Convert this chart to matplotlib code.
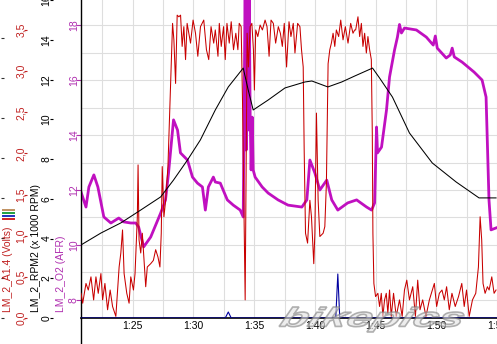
import matplotlib
matplotlib.use('Agg')
import matplotlib.pyplot as plt
from matplotlib.lines import Line2D
from matplotlib.textpath import TextPath
from matplotlib.patches import PathPatch
from matplotlib.font_manager import FontProperties
from matplotlib.transforms import Affine2D
import numpy as np

plt.rcParams['font.family'] = 'Liberation Sans'
plt.rcParams['font.size'] = 7.5

# time in seconds (1:25 = 85 s)
afr_t = [80.74, 81.15, 81.39, 81.80, 82.13, 82.62, 83.20, 83.85, 84.26, 84.84, 85.25, 85.49,
         85.90, 86.48, 87.30, 87.70, 87.95, 88.36, 88.69, 88.93, 89.51, 89.92, 90.33, 90.74,
         90.98, 91.23, 91.64, 91.80, 92.21, 92.79, 93.28, 93.85, 94.10, 94.26, 94.34, 94.43,
         94.51, 94.59, 94.67, 94.75, 94.84, 94.92, 95.08, 95.66, 96.15, 96.97, 97.79, 98.93,
         99.34, 99.59, 100.00, 100.41, 100.98, 101.39, 101.89, 102.70, 103.44, 104.26, 104.67,
         104.92, 105.08, 105.16, 105.49, 105.90, 106.15, 106.56, 106.80, 106.97, 107.13, 107.38,
         108.36, 109.18, 109.75, 109.92, 110.08, 110.82, 111.15, 111.31, 111.48, 112.13, 113.11,
         113.77, 114.10, 114.34, 114.51, 114.92]
afr_v = [11.93, 11.38, 12.11, 12.55, 12.11, 11.02, 10.80, 10.98, 10.84, 10.80, 10.80, 10.65,
         9.93, 10.29, 11.16, 11.64, 12.62, 14.55, 14.18, 13.35, 13.09, 12.47, 12.25, 12.11,
         11.27, 12.11, 12.47, 12.29, 12.25, 11.64, 11.45, 11.27, 11.02, 19.5, 13.45, 19.5,
         14.18, 19.5, 14.80, 12.73, 14.65, 12.73, 12.47, 12.11, 11.89, 11.64, 11.45, 11.38,
         11.64, 13.09, 12.62, 12.00, 12.36, 11.64, 11.27, 11.53, 11.64, 11.38, 11.27,
         11.53, 14.29, 13.35, 13.56, 14.91, 16.11, 17.09, 17.56, 18.02, 17.71, 17.89,
         17.82, 17.56, 17.27, 17.60, 17.16, 16.80, 16.91, 17.16, 16.84, 16.65, 16.29,
         16.00, 15.38, 11.64, 10.55, 10.62]

rpm_t = [80.74, 82.38, 84.02, 85.66, 87.30, 88.36, 89.51, 90.57, 91.80, 92.87, 94.10, 94.51,
         94.92, 96.15, 97.54, 99.18, 99.75, 101.07, 102.21, 103.28, 104.75, 105.33, 106.39,
         107.79, 109.67, 111.64, 113.52, 114.92]
rpm_k = [3.68, 4.28, 4.79, 5.44, 6.10, 6.95, 7.96, 8.97, 10.48, 11.64, 12.59, 11.49,
         10.48, 10.98, 11.59, 11.89, 11.94, 11.64, 11.89, 12.19, 12.59, 12.09, 11.13,
         9.32, 7.81, 6.85, 6.05, 6.05]

volt_t = [80.74, 80.88, 81.15, 81.34, 81.56, 81.78, 81.97, 82.16, 82.38, 82.52, 82.71, 82.93,
          83.14, 83.34, 83.61, 83.88, 84.02, 84.16, 84.29, 84.51, 84.70, 84.84, 85.06, 85.19,
          85.38, 85.44, 85.52, 85.66, 85.79, 85.93, 86.07, 86.20, 86.48, 86.70, 86.89, 87.08,
          87.24, 87.35, 87.43, 87.57, 87.71, 87.90, 88.06, 88.17, 88.28, 88.39, 88.53, 88.66,
          88.80, 88.94, 89.07, 89.21, 89.35, 89.48, 89.76, 89.97, 90.17, 90.36, 90.58, 90.85,
          91.07, 91.26, 91.45, 91.67,
          91.80, 92.02, 92.13, 92.29, 92.48, 92.62, 92.76, 92.95, 93.11, 93.30, 93.49, 93.66,
          93.77, 93.93, 94.04, 94.15, 94.26, 94.34, 94.42, 94.53, 94.67, 94.81, 94.94, 95.02,
          95.13, 95.30, 95.49, 95.68, 95.90, 96.06, 96.23, 96.39, 96.58, 96.77, 96.99, 97.16,
          97.32, 97.48, 97.67, 97.87, 98.03, 98.22, 98.36, 98.58, 98.77, 98.90, 99.04, 99.12,
          99.23, 99.40, 99.59, 99.72, 99.91, 100.00, 100.13, 100.27, 100.41, 100.68, 100.82,
          100.95, 101.09, 101.23, 101.36, 101.50, 101.64, 101.77, 101.96, 102.13, 102.32,
          102.51, 102.73, 102.95, 103.14, 103.28,
          103.36, 103.55, 103.69, 103.83, 103.96, 104.10, 104.24, 104.37, 104.51, 104.65,
          104.73, 104.78, 104.86, 105.00, 105.19, 105.33, 105.47, 105.60, 105.74, 105.88,
          106.01, 106.15, 106.29, 106.48, 106.70, 106.97, 107.19, 107.38, 107.57, 107.79,
          108.06, 108.28, 108.47, 108.66, 108.88, 109.15, 109.43, 109.84, 110.03, 110.25,
          110.47, 110.66, 110.85, 111.07, 111.29, 111.56, 111.83, 112.10, 112.30, 112.49,
          112.71, 112.98, 113.25, 113.47, 113.61, 113.74, 113.85, 114.02, 114.21, 114.35,
          114.57, 114.76, 114.92]
volt_v = [0.30, 0.18, 0.42, 0.34, 0.50, 0.22, 0.50, 0.30, 0.54, 0.22, 0.42, 0.10,
          0.34, 0.14, 0.02, 0.62, 0.79, 1.07, 0.54, 0.30, 0.18, 0.50, 0.34, 0.54,
          1.23, 1.86, 0.95, 0.79, 1.03, 0.70, 0.38, 0.62, 0.66, 0.70, 0.83, 0.74,
          0.62, 1.03, 1.84, 1.23, 1.43, 1.84, 2.57, 3.05, 3.58, 3.38, 2.85, 3.68,
          3.66, 3.68, 3.30, 3.54, 3.14, 3.58, 3.34, 3.62, 3.46, 3.18, 3.54, 3.62,
          3.26, 3.14, 3.54, 3.34,
          3.50, 3.18, 3.58, 3.30, 3.54, 3.14, 3.58, 3.34, 3.60, 3.26, 3.46, 3.26,
          3.58, 3.54, 2.65, 1.43, 0.22, 1.84, 3.46, 3.05, 3.54, 3.58, 3.26, 2.77,
          3.50, 3.42, 3.56, 3.50, 3.62, 3.54, 3.18, 3.62, 3.58, 3.34, 3.54, 3.46,
          3.30, 3.58, 3.05, 3.60, 3.42, 3.58, 3.22, 3.58, 3.54, 3.26, 3.05, 2.04,
          1.03, 0.91, 1.43, 1.23, 0.66, 1.03, 2.49, 1.43, 0.99, 1.03, 1.11,
          1.64, 3.09, 3.26, 3.34, 3.46, 3.30, 3.50, 3.42, 3.62, 3.38,
          3.54, 3.34, 3.58, 3.46, 3.50,
          3.50, 3.66, 3.42, 3.58, 3.30, 3.46, 3.22, 3.42, 3.26, 3.14,
          2.24, 1.03, 0.42, 0.26, 0.30, 0.14, 0.30, 0.02, 0.22, 0.30,
          0.06, 0.34, 0.02, 0.30, 0.02, 0.22, 0.02, 0.34, 0.46, 0.22,
          0.38, 0.02, 0.46, 0.10, 0.22, 0.02, 0.22, 0.42, 0.14, 0.30,
          0.34, 0.22, 0.38, 0.10, 0.30, 0.14, 0.26, 0.42, 0.14, 0.34,
          0.02, 0.22, 0.30, 0.62, 1.23, 0.95, 0.42, 0.30, 0.38, 0.34,
          0.50, 0.30, 0.34]

blue_t = [80.74, 92.62, 92.87, 93.11, 101.72, 101.89, 102.05, 115.0]
blue_v = [0, 0, 0.15, 0, 0, 1.1, 0, 0]

xtick_pos = [80.74, 85, 90, 95, 100, 105, 110, 115]
xtick_labels = ["I", "1:25", "1:30", "1:35", "1:40", "1:45", "1:50", "1:55"]
afr_ticks = [8, 10, 12, 14, 16, 18]
rpm_ticks = [0, 2, 4, 6, 8, 10, 12, 14, 16]
volt_ticks = [0.0, 0.5, 1.0, 1.5, 2.0, 2.5, 3.0, 3.5]
volt_labels = ["0,0", "0,5", "1,0", "1,5", "2,0", "2,5", "3,0", "3,5"]

AFR_COL = '#c010c0'
AFR_TXT = '#b030b0'
VOLT_COL = '#c80000'
VOLT_TXT = '#c02020'
BLUE_COL = '#0000a0'

W, H = 497, 344
fig = plt.figure(figsize=(W / 100, H / 100), dpi=100)
host = fig.add_axes([81 / W, 26 / H, 416 / W, 318 / H])

host.plot(afr_t, afr_v, color=AFR_COL, lw=2.0, solid_joinstyle='round')
host.set_xlim(80.74, 115.0)
host.set_ylim(7.345, 18.91)
host.set_xticks(xtick_pos)
host.set_xticklabels(xtick_labels)
host.set_xticks(np.arange(82.5, 115, 2.5), minor=True)
host.set_yticks(afr_ticks)
host.set_yticklabels([str(v) for v in afr_ticks])
host.set_yticks(np.arange(9, 19, 2), minor=True)
host.grid(which='both', color='#dedede', lw=0.8)
host.set_axisbelow(True)
host.tick_params(axis='x', which='major', length=0, pad=2.5, labelsize=7.5)
host.tick_params(which='minor', length=0)
host.tick_params(axis='y', which='major', length=3.6, width=0.8, pad=-2,
                 colors=AFR_TXT, labelrotation=90)
for lbl in host.get_yticklabels():
    lbl.set_va('center')
host.spines['top'].set_visible(False)
host.spines['right'].set_visible(False)
host.spines['left'].set_linewidth(1.0)
host.spines['bottom'].set_linewidth(1.2)
host.axvline(80.74, ymin=-26 / 318, ymax=0, color='black', lw=1.0, clip_on=False)


def side_axis(offset_px):
    a = host.twinx()
    a.yaxis.set_ticks_position('left')
    a.yaxis.set_label_position('left')
    for s in a.spines.values():
        s.set_visible(False)
    a.spines['left'].set_position(('axes', -offset_px / 416))
    return a


ax_v = side_axis(54)
ax_v.plot(volt_t, volt_v, color=VOLT_COL, lw=0.75)
ax_v.set_ylim(0, 3.864)
ax_v.set_yticks(volt_ticks)
ax_v.set_yticklabels(volt_labels)
ax_v.tick_params(axis='y', length=2.2, width=0.8, pad=-1.5, colors=VOLT_TXT, labelrotation=90)
for lbl in ax_v.get_yticklabels():
    lbl.set_va('center')

ax_r = side_axis(28.5)
ax_r.plot(rpm_t, rpm_k, color='black', lw=0.75)
ax_r.set_ylim(0, 16.02)
ax_r.set_yticks(rpm_ticks)
ax_r.set_yticklabels([str(v) for v in rpm_ticks])
ax_r.tick_params(axis='y', length=2.2, width=0.8, pad=-1.5, colors='black', labelrotation=90)
for lbl in ax_r.get_yticklabels():
    lbl.set_va('center')

ax_b = side_axis(77)
ax_b.plot(blue_t, blue_v, color=BLUE_COL, lw=0.8)
ax_b.set_ylim(0, 7.95)
ax_b.set_yticks(range(0, 8))
ax_b.set_yticklabels([])
ax_b.tick_params(axis='y', length=2.2, width=0.8, colors='#303030')

# axis titles
fig.text(8 / W, 32 / H, "LM_2_A1.4 (Volts)", rotation=90, ha='center', va='bottom', color=VOLT_TXT)
fig.text(36 / W, 32 / H, "LM_2_RPM2 (x 1000 RPM)", rotation=90, ha='center', va='bottom', color='black')
fig.text(61 / W, 32 / H, "LM_2_O2 (AFR)", rotation=90, ha='center', va='bottom', color=AFR_TXT)
for i, c in enumerate(['#c09060', '#20a040', '#2030c0', '#d02020']):
    y = (H - (209.5 + 3 * i)) / H
    fig.add_artist(Line2D([3 / W, 14 / W], [y, y], color=c, lw=1.4))

# watermark
tp = TextPath((0, 0), "bikepics", size=20,
              prop=FontProperties(family='Liberation Sans', weight='bold', style='italic'))
bb = tp.get_extents()
tr = (Affine2D().translate(-bb.x0, -bb.y0).skew_deg(12, 0)
      .scale((467 - 277) / (bb.width + bb.height * 0.21), (332 - 307) / bb.height)
      .translate(277, H - 332).scale(1 / W, 1 / H) + fig.transFigure)
fig.add_artist(PathPatch(tp, transform=tr, facecolor='#e2e2e2', edgecolor='#808080',
                         lw=1.2, alpha=0.6, zorder=10))

fig.savefig('out.png', dpi=100)
